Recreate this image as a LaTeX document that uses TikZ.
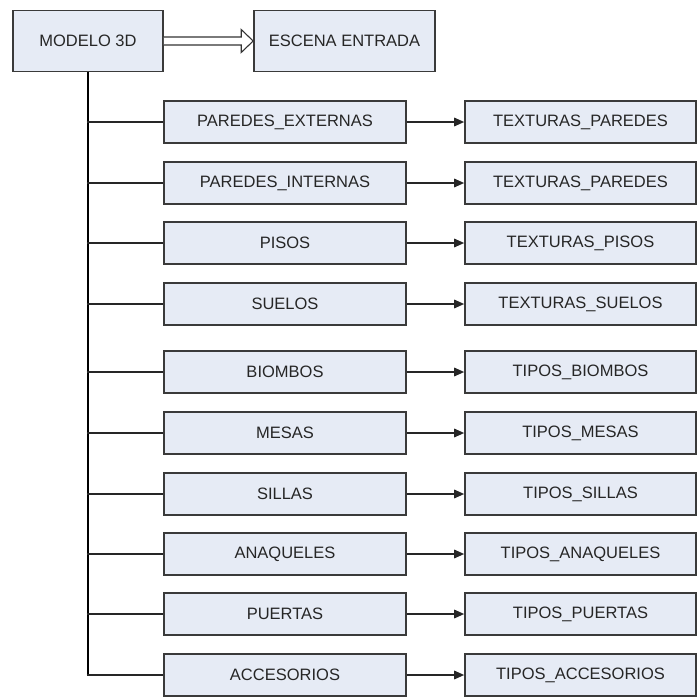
\documentclass[tikz,border=0pt]{standalone}
\usepackage{fontspec}
\setmainfont{Liberation Sans}
\usetikzlibrary{calc,arrows.meta}
\definecolor{boxfill}{HTML}{E6EBF5}
\definecolor{boxline}{HTML}{3A3A3A}
\definecolor{boxtext}{HTML}{262626}
\tikzset{
  box/.style={draw=boxline, fill=boxfill, line width=1.6pt, inner sep=0pt,
    minimum height=42pt, text=boxtext, font=\fontsize{16.5}{18}\selectfont},
  topbox/.style={box, minimum height=61pt},
  leftbox/.style={box, minimum width=242pt},
  rightbox/.style={box, minimum width=231pt},
  trunk/.style={draw=black, line width=2.6pt},
  branch/.style={draw=black!85, line width=1.6pt},
  link/.style={draw=black!85, line width=1.6pt, -{Triangle[length=10pt,width=8.5pt]}},
  hollow/.style={draw=black!80, line width=1.1pt, fill=white, line join=miter}
}
\begin{document}
\begin{tikzpicture}[x=1pt,y=-1pt]
\useasboundingbox (0,0) rectangle (698,696);

% header boxes
\node[topbox, minimum width=150pt] (m) at (88,41) {MODELO 3D};
\node[topbox, minimum width=181pt] (e) at (344.5,41) {ESCENA ENTRADA};

% hollow block arrow between the header boxes
\draw[hollow] ($(m.east)+(0,-4)$) -- ($(e.west)+(-12,-4)$) -- ($(e.west)+(-12,-11.5)$)
  -- (e.west) -- ($(e.west)+(-12,11.5)$) -- ($(e.west)+(-12,4)$) -- ($(m.east)+(0,4)$);

% element rows: left box, right box
\foreach \i/\y/\a/\b in {
  1/122/PAREDES\_EXTERNAS/TEXTURAS\_PAREDES,
  2/183/PAREDES\_INTERNAS/TEXTURAS\_PAREDES,
  3/243/PISOS/TEXTURAS\_PISOS,
  4/304/SUELOS/TEXTURAS\_SUELOS,
  5/372/BIOMBOS/TIPOS\_BIOMBOS,
  6/433/MESAS/TIPOS\_MESAS,
  7/494/SILLAS/TIPOS\_SILLAS,
  8/554/ANAQUELES/TIPOS\_ANAQUELES,
  9/614/PUERTAS/TIPOS\_PUERTAS,
  10/675/ACCESORIOS/TIPOS\_ACCESORIOS}{
  \node[leftbox] (l\i) at (285,\y) {\a};
  \node[rightbox] (r\i) at (580.5,\y) {\b};
  \draw[link] (l\i) -- (r\i);
}

% trunk from the model down to the last row
\draw[trunk] (m.south) -- (m.south |- l10.west);
\foreach \i in {1,...,10}{
  \draw[branch] ([xshift=-1.3pt]m.south |- l\i.west) -- (l\i.west);
}
\end{tikzpicture}
\end{document}
